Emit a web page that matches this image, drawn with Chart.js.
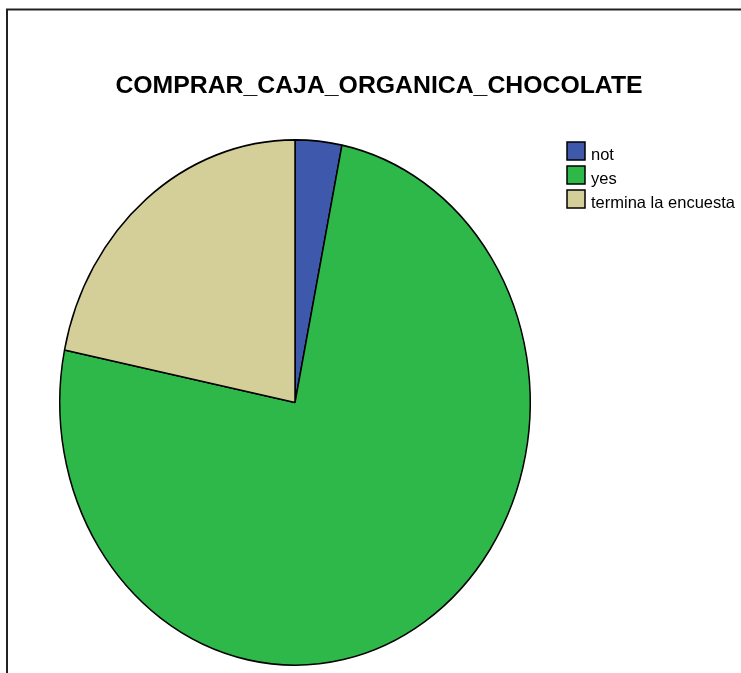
<!DOCTYPE html>
<html>
<head>
<meta charset="utf-8">
<script src="https://cdn.jsdelivr.net/npm/chart.js@4/dist/chart.umd.min.js"></script>
<style>
html,body{margin:0;padding:0;background:#fff;}
canvas{display:block;}
</style>
</head>
<body>
<canvas id="c" width="741" height="673"></canvas>
<script>
const chartTitle = "COMPRAR_CAJA_ORGANICA_CHOCOLATE";
const categories = ["not", "yes", "termina la encuesta"];
const percentValues = [3.2, 75.0, 21.8];
const sliceColors = ["#3e58ac", "#2fb84a", "#d4cf98"];

const ellipsePlugin = {
  id: 'ellipse',
  beforeDatasetsDraw(chart) {
    const meta = chart.getDatasetMeta(0);
    const arc = meta.data[0];
    const cx = arc.x, cy = arc.y;
    const ctx = chart.ctx;
    ctx.save();
    ctx.translate(cx, cy);
    ctx.scale(1, 263.5 / 236);
    ctx.translate(-cx, -cy);
  },
  afterDatasetsDraw(chart) {
    chart.ctx.restore();
  }
};

const decorPlugin = {
  id: 'decor',
  afterDraw(chart) {
    const ctx = chart.ctx;
    ctx.save();
    // frame
    ctx.strokeStyle = '#222';
    ctx.lineWidth = 2;
    ctx.beginPath();
    ctx.moveTo(7, 673);
    ctx.lineTo(7, 9.5);
    ctx.lineTo(741, 9.5);
    ctx.stroke();
    // title
    ctx.fillStyle = '#000';
    ctx.font = 'bold 24.8px "Liberation Sans", Arial, sans-serif';
    ctx.textAlign = 'center';
    ctx.textBaseline = 'alphabetic';
    ctx.fillText(chartTitle, 379, 93);
    // legend
    ctx.font = '16.5px "Liberation Sans", Arial, sans-serif';
    ctx.textAlign = 'left';
    ctx.textBaseline = 'alphabetic';
    categories.forEach((lab, i) => {
      const y = 142 + i * 24;
      ctx.fillStyle = sliceColors[i];
      ctx.fillRect(567, y, 18, 18);
      ctx.strokeStyle = '#000';
      ctx.lineWidth = 1.5;
      ctx.strokeRect(567, y, 18, 18);
      ctx.fillStyle = '#000';
      ctx.fillText(lab, 591, y + 18);
    });
    ctx.restore();
  }
};

new Chart(document.getElementById('c'), {
  type: 'pie',
  data: {
    labels: categories,
    datasets: [{
      data: percentValues,
      backgroundColor: sliceColors,
      borderColor: '#000',
      borderWidth: 1.5
    }]
  },
  options: {
    responsive: false,
    animation: false,
    layout: { padding: { left: 59, top: 139, right: 210, bottom: 7 } },
    plugins: {
      legend: { display: false },
      title: { display: false },
      tooltip: { enabled: false }
    }
  },
  plugins: [ellipsePlugin, decorPlugin]
});
</script>
</body>
</html>
